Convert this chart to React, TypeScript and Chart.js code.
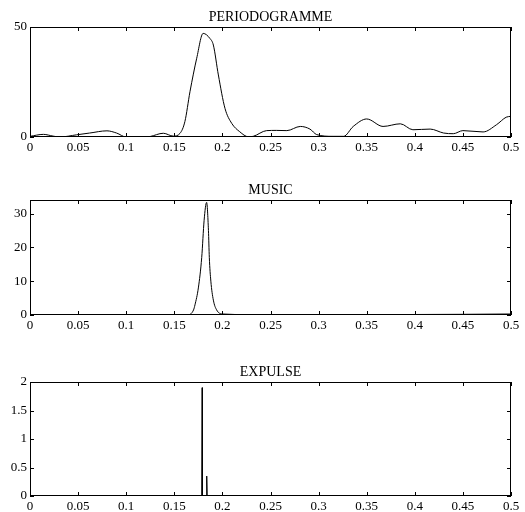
import React, { useEffect, useRef } from "react";
import { Chart, registerables } from "chart.js";

Chart.register(...registerables);

const X_TICKS = [0, 0.05, 0.1, 0.15, 0.2, 0.25, 0.3, 0.35, 0.4, 0.45, 0.5];
const X_TICK_LABELS = ["0", "0.05", "0.1", "0.15", "0.2", "0.25", "0.3", "0.35", "0.4", "0.45", "0.5"];

const PERIO_FREQ = [0, 0.014, 0.024, 0.031, 0.0485, 0.062, 0.08, 0.09, 0.1, 0.121, 0.1247, 0.1386, 0.149, 0.156, 0.161, 0.1663, 0.1733, 0.18, 0.187, 0.1906, 0.1958, 0.2027, 0.2097, 0.218, 0.227, 0.232, 0.246, 0.256, 0.267, 0.281, 0.291, 0.298, 0.315, 0.326, 0.336, 0.35, 0.367, 0.385, 0.398, 0.416, 0.43, 0.44, 0.45, 0.471, 0.485, 0.495, 0.5];
const PERIO_POWER = [0.3, 1.2, 0.4, 0, 1, 1.8, 2.8, 1.8, 0, 0, 0.2, 1.7, 0.4, 1.7, 7, 20.6, 35.8, 47.1, 44.8, 41.8, 28.2, 13, 6.2, 2.4, 0.1, 0.3, 2.9, 3, 2.9, 4.8, 3.6, 1.1, 0.3, 0.3, 4.8, 8.2, 4.8, 6, 3.3, 3.6, 1.8, 1.5, 2.9, 2.3, 5.6, 9, 9.4];
const PERIO_Y_TICKS = [0, 50];

const MUSIC_FREQ = [0, 0.05, 0.1, 0.15, 0.165, 0.17, 0.1715, 0.175, 0.1785, 0.181, 0.1836, 0.1855, 0.1864, 0.188, 0.1906, 0.194, 0.2, 0.25, 0.3, 0.35, 0.4, 0.45, 0.5];
const MUSIC_POWER = [0, 0, 0, 0, 0.1, 1.5, 3, 8, 17, 28, 33.3, 25, 17, 10, 4.4, 1.5, 0.3, 0.05, 0.1, 0.1, 0.15, 0.2, 0.3];
const MUSIC_Y_TICKS = [0, 10, 20, 30];

const EXPULSE_FREQ = [0, 0.1785, 0.179, 0.179, 0.1795, 0.1832, 0.1837, 0.1837, 0.1842, 0.5];
const EXPULSE_AMP = [0, 0, 1.9, 1.9, 0, 0, 0.35, 0.35, 0, 0];
const EXPULSE_Y_TICKS = [0, 0.5, 1, 1.5, 2];

const FONT = "'Liberation Serif', 'Times New Roman', serif";

type PanelProps = {
  top: number;
  height: number;
  areaTop: number;
  areaBottom: number;
  title: string;
  xs: number[];
  ys: number[];
  yMax: number;
  yTicks: number[];
  tension: number;
};

function Panel(p: PanelProps) {
  const ref = useRef<HTMLCanvasElement>(null);
  useEffect(() => {
    if (!ref.current) return;
    const framePlugin = {
      id: "frame",
      afterDraw(chart: any) {
        const { ctx, chartArea } = chart;
        const { left, right, top, bottom } = chartArea;
        ctx.save();
        ctx.strokeStyle = "#000";
        ctx.lineWidth = 1;
        ctx.strokeRect(left + 0.5, top + 0.5, right - left - 1, bottom - top - 1);
        const xs = chart.scales.x;
        const ys = chart.scales.y;
        ctx.beginPath();
        X_TICKS.forEach((v) => {
          const px = Math.round(xs.getPixelForValue(v)) + 0.5;
          ctx.moveTo(px, bottom);
          ctx.lineTo(px, bottom - 4);
          ctx.moveTo(px, top);
          ctx.lineTo(px, top + 4);
        });
        p.yTicks.forEach((v) => {
          const py = Math.round(ys.getPixelForValue(v)) + 0.5;
          ctx.moveTo(left, py);
          ctx.lineTo(left + 4, py);
          ctx.moveTo(right, py);
          ctx.lineTo(right - 4, py);
        });
        ctx.stroke();
        ctx.fillStyle = "#000";
        ctx.font = "14px " + FONT;
        ctx.textAlign = "center";
        ctx.textBaseline = "bottom";
        ctx.fillText(p.title, (left + right) / 2, top - 3);
        ctx.restore();
      },
    };
    const chart = new Chart(ref.current, {
      type: "line",
      data: {
        datasets: [
          {
            data: p.xs.map((x, i) => ({ x, y: p.ys[i] })),
            borderColor: "#000",
            borderWidth: 1,
            pointRadius: 0,
            tension: p.tension,
            cubicInterpolationMode: p.tension > 0 ? "monotone" : "default",
            fill: false,
          } as any,
        ],
      },
      options: {
        animation: false,
        responsive: false,
        devicePixelRatio: 1,
        layout: { padding: { left: 0, right: 14, top: p.areaTop, bottom: 0 } },
        plugins: { legend: { display: false }, tooltip: { enabled: false }, title: { display: false } },
        scales: {
          x: {
            type: "linear",
            min: 0,
            max: 0.5,
            grid: { display: false, drawTicks: false },
            border: { display: false },
            afterFit: (s: any) => {
              s.height = p.height - p.areaBottom;
            },
            afterBuildTicks: (s: any) => {
              s.ticks = X_TICKS.map((v) => ({ value: v }));
            },
            ticks: {
              padding: 3,
              color: "#000",
              font: { family: FONT, size: 13 },
              maxRotation: 0,
              autoSkip: false,
              callback: (v: any) => {
                const i = X_TICKS.findIndex((t) => Math.abs(t - Number(v)) < 1e-9);
                return i >= 0 ? X_TICK_LABELS[i] : "";
              },
            },
          },
          y: {
            type: "linear",
            min: 0,
            max: p.yMax,
            grid: { display: false, drawTicks: false },
            border: { display: false },
            afterFit: (s: any) => {
              s.width = 30;
            },
            afterBuildTicks: (s: any) => {
              s.ticks = p.yTicks.map((v) => ({ value: v }));
            },
            ticks: {
              padding: 3,
              color: "#000",
              font: { family: FONT, size: 13 },
              callback: (v: any) => String(v),
            },
          },
        },
      },
      plugins: [framePlugin],
    });
    return () => chart.destroy();
  }, []);
  return (
    <div style={{ position: "absolute", left: 0, top: p.top, width: 525, height: p.height }}>
      <canvas ref={ref} width={525} height={p.height} style={{ display: "block" }} />
    </div>
  );
}

export default function App() {
  return (
    <div style={{ position: "fixed", left: 0, top: 0, width: 525, height: 512, background: "#fff" }}>
      <Panel top={0} height={170} areaTop={27} areaBottom={137} title="PERIODOGRAMME" xs={PERIO_FREQ} ys={PERIO_POWER} yMax={50} yTicks={PERIO_Y_TICKS} tension={0.3} />
      <Panel top={170} height={170} areaTop={30} areaBottom={145} title="MUSIC" xs={MUSIC_FREQ} ys={MUSIC_POWER} yMax={34} yTicks={MUSIC_Y_TICKS} tension={0.3} />
      <Panel top={340} height={172} areaTop={42} areaBottom={156} title="EXPULSE" xs={EXPULSE_FREQ} ys={EXPULSE_AMP} yMax={2} yTicks={EXPULSE_Y_TICKS} tension={0} />
    </div>
  );
}
